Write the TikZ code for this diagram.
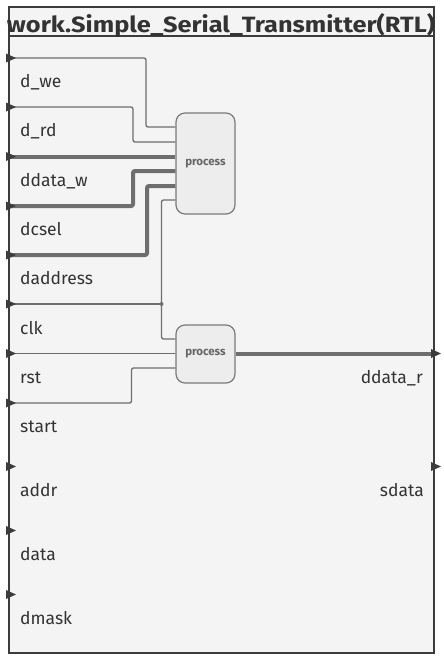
\documentclass[tikz,border=0pt]{standalone}
\usepackage{fontspec}
\setmainfont{Fira Sans}
\definecolor{wirec}{HTML}{6E6E6E}
\definecolor{boxf}{HTML}{F4F4F4}
\definecolor{boxb}{HTML}{3C3C3C}
\definecolor{procf}{HTML}{EDEDED}
\definecolor{procb}{HTML}{7A7A7A}
\definecolor{proct}{HTML}{666666}
\definecolor{txt}{HTML}{333333}
\begin{document}
\begin{tikzpicture}[x=1pt,y=-1pt,
  wire/.style={draw=wirec, line width=1.3pt, rounded corners=2pt},
  bus/.style={draw=wirec, line width=4pt, rounded corners=2pt},
  proc/.style={draw=procb, fill=procf, line width=1.2pt, rounded corners=9pt,
    minimum width=59pt, inner sep=0pt, text=proct,
    font=\fontsize{11.5}{13}\selectfont\bfseries},
  lbl/.style={anchor=base west, inner sep=0pt, text=txt,
    font=\fontsize{17.5}{19}\selectfont},
  rlbl/.style={lbl, anchor=base east},
  portarrow/.style={fill=boxb}
]
\useasboundingbox (0,0) rectangle (444,662);
% module box
\fill[boxf] (9,7) rectangle (434,653);
\draw[boxb, line width=1.5pt] (9,7) rectangle (434,653);
\draw[boxb, line width=1.2pt] (9,36) -- (434,36);
\node[anchor=base, inner sep=0pt, text=txt] (title) at (221,32)
  {\resizebox{428pt}{19pt}{\bfseries work.Simple\_Serial\_Transmitter(RTL)}};

% ports
\coordinate (pdwe) at (9,58);
\coordinate (pdrd) at (9,107);
\coordinate (pddw) at (9,156.5);
\coordinate (pdcs) at (9,206);
\coordinate (pdad) at (9,255);
\coordinate (pclk) at (9,304);
\coordinate (prst) at (9,353.5);
\coordinate (pstart) at (9,403);
\coordinate (paddr) at (9,466.5);
\coordinate (pdata) at (9,530.5);
\coordinate (pdmask) at (9,594.5);
\coordinate (pddr) at (434,353.5);
\coordinate (psdata) at (434,466.5);

% labels
\node[lbl] (ldwe) at (20,87) {d\_we};
\node[lbl] (ldrd) at (20,136) {d\_rd};
\node[lbl] (lddw) at (20,186) {ddata\_w};
\node[lbl] (ldcs) at (20,235) {dcsel};
\node[lbl] (ldad) at (20,284) {daddress};
\node[lbl] (lclk) at (20,334) {clk};
\node[lbl] (lrst) at (20,383) {rst};
\node[lbl] (lstart) at (20,432) {start};
\node[lbl] (laddr) at (20,496) {addr};
\node[lbl] (ldata) at (20,560) {data};
\node[lbl] (ldmask) at (20,624) {dmask};
\node[rlbl] (lddr) at (423,383) {ddata\_r};
\node[rlbl] (lsdata) at (424,496) {sdata};

% processes
\node[proc, minimum height=101pt] (p1) at (205.5,163.5) {process};
\node[proc, minimum height=58pt] (p2) at (205.5,354) {process};

% wires
\draw[wire] (pdwe) -| (146,127) -- (p1.west |- 0,127);
\draw[wire] (pdrd) -| (133,142) -- (p1.west |- 0,142);
\draw[bus] (pddw) -- (p1.west |- pddw);
\draw[bus] (pdcs) -| (133,171) -- (p1.west |- 0,171);
\draw[bus] (pdad) -| (147,186) -- (p1.west |- 0,186);
\coordinate (j) at (161.5,304);
\draw[wire] (pclk) -- (j);
\draw[wire] (j) |- (p1.west |- 0,200);
\draw[wire] (j) |- (p2.west |- 0,339);
\fill[wirec] (j) circle (2pt);
\draw[wire] (prst) -- (p2.west |- prst);
\draw[wire] (pstart) -| (131.5,368) -- (p2.west |- 0,368);
\draw[bus] (p2.east |- pddr) -- (pddr);

% port arrows
\foreach \c in {pdwe,pdrd,pddw,pdcs,pdad,pclk,prst,pstart,paddr,pdata,pdmask}
  \fill[portarrow] (\c) ++(-3,-4.5) -- ++(10,4.5) -- ++(-10,4.5) -- cycle;
\foreach \c in {pddr,psdata}
  \fill[portarrow] (\c) ++(-3,-4.5) -- ++(10,4.5) -- ++(-10,4.5) -- cycle;
\end{tikzpicture}
\end{document}
